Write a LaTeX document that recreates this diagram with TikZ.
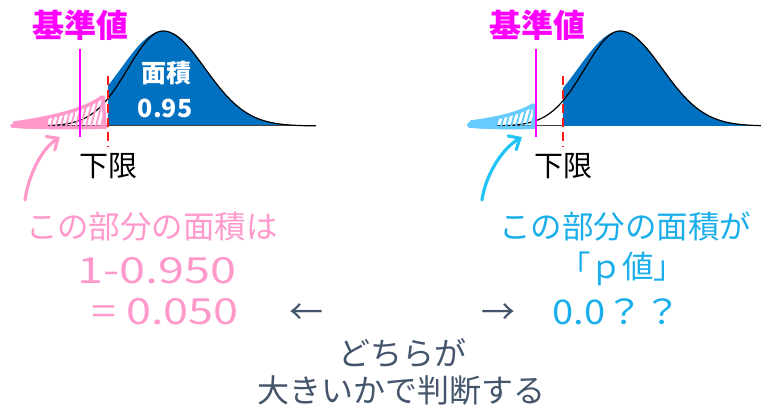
\documentclass[tikz,border=0pt]{standalone}
\usepackage{fontspec}
\setmainfont{Noto Sans CJK JP}
\usetikzlibrary{arrows.meta}
\definecolor{pinkc}{HTML}{FF99CC}
\definecolor{cyanc}{HTML}{1AAFEA}
\definecolor{cyanarrow}{HTML}{22C4F8}
\definecolor{blobblue}{HTML}{66CCFF}
\definecolor{magc}{HTML}{FF00FF}
\definecolor{fillblue}{HTML}{0070C0}
\definecolor{grayblue}{HTML}{44546A}
\definecolor{redc}{HTML}{FF1A1A}
\newcommand{\fsz}[1]{\fontsize{#1}{#1}\selectfont}
\tikzset{
  declare function={gl(\x)=126-95*exp(-0.5*(((\x-163)/35)^2)); gr(\x)=126-95*exp(-0.5*(((\x-163)/42)^2));},
  curveline/.style={black, line width=1.2},
  baseline/.style={black!75, line width=1},
  limitline/.style={redc, line width=2.6, dash pattern=on 9pt off 5pt},
  refline/.style={magc, line width=2},
  hatchline/.style={line width=1.8},
  blobstroke/.style={line width=3.5, line cap=round, line join=round},
  handarrow/.style={line width=3.2, line cap=round, -{Straight Barb[length=9pt,width=16pt,line cap=round]}},
  reflabel/.style={text=magc, font=\fsz{32}\bfseries, inner sep=0},
  limlabel/.style={text=black, font=\fsz{29}, inner sep=0},
  arealabel/.style={text=white, font=\fsz{25}\bfseries, inner sep=0},
  bigtext/.style={font=\fsz{31.5}, inner sep=0},
  numtext/.style={font=\fsz{36}, inner sep=0},
  graytext/.style={text=grayblue, font=\fsz{32}, inner sep=0},
}
\begin{document}
\begin{tikzpicture}[x=1pt,y=-1pt]
\useasboundingbox (0,0) rectangle (761,409);

% ---------------- left distribution ----------------
\fill[fillblue] (108,126) -- plot[domain=108:316,samples=60] (\x,{gr(\x)}) -- (316,126) -- cycle;
\draw[baseline] (12,126) -- (316,126);
\draw[curveline] plot[domain=12:163,samples=60] (\x,{gl(\x)}) -- plot[domain=163:316,samples=60] (\x,{gr(\x)});
% pink hatched tail
\begin{scope}
  \clip (40,127) -- (40,117) .. controls (70,112) and (90,106) .. (104,97) -- (104,127) -- cycle;
  \foreach \i in {30,35,...,110} \draw[pinkc,hatchline] (\i,130) -- (\i+9,95);
\end{scope}
\fill[pinkc] (10,126) .. controls (10,122) and (30,121) .. (48,117) -- (48,128) .. controls (30,129) and (12,129) .. (10,126) -- cycle;
\draw[pinkc,blobstroke] (12,126) .. controls (40,128) and (80,128) .. (106,127);
\draw[pinkc,blobstroke] (14,123) .. controls (50,118) and (85,110) .. (102,97);
\draw[pinkc,blobstroke] (103,97) -- (105,127);
\draw[limitline] (108,76) -- (108,147);
\draw[refline] (80,49) -- (80,137);
\node[reflabel] (refL) at (80,25) {基準値};
\node[arealabel] (areaL) at (166,73) {面積};
\node[arealabel] (valL) at (165,108) {0.95};
\node[limlabel] (limL) at (108,166) {下限};
\coordinate (pa0) at (25,200);
\coordinate (pa1) at (60,137);
\draw[pinkc,handarrow] (pa0) .. controls (28,178) and (40,150) .. (pa1);

% ---------------- right distribution ----------------
\begin{scope}[shift={(457,0)}]
\fill[fillblue] (106,126) -- plot[domain=106:304,samples=60] (\x,{gr(\x)}) -- (304,126) -- cycle;
\draw[baseline] (12,126) -- (106,126);
\draw[curveline] plot[domain=12:163,samples=60] (\x,{gl(\x)}) -- plot[domain=163:304,samples=60] (\x,{gr(\x)});
\begin{scope}
  \clip (38,127) -- (38,118) .. controls (55,114) and (68,110) .. (77,105) -- (77,127) -- cycle;
  \foreach \i in {28,33,...,85} \draw[blobblue,hatchline] (\i,130) -- (\i+9,98);
\end{scope}
\fill[blobblue] (10,125) .. controls (10,120) and (25,120) .. (40,117) -- (40,128) .. controls (25,129) and (12,129) .. (10,125) -- cycle;
\draw[blobblue,blobstroke] (12,126) .. controls (40,128) and (60,128) .. (78,127);
\draw[blobblue,blobstroke] (14,122) .. controls (45,118) and (65,112) .. (76,105);
\draw[blobblue,blobstroke] (77,105) -- (78,127);
\draw[limitline] (106,76) -- (106,147);
\draw[refline] (79,49) -- (79,137);
\end{scope}
\node[reflabel] (refR) at (537,25) {基準値};
\node[limlabel] (limR) at (563,166) {下限};
\coordinate (ba0) at (482,200);
\coordinate (ba1) at (522,137);
\draw[cyanarrow,handarrow] (ba0) .. controls (485,178) and (500,150) .. (ba1);

% ---------------- texts ----------------
\node[bigtext,text=pinkc] (tL1) at (152,227) {この部分の面積は};
\node[numtext,text=pinkc] (tL2) at (157,271) {\scalebox{1.3}[1]{1-0.950}};
\node[numtext,text=pinkc] (tL3) at (165,312) {\scalebox{1.25}[1]{= 0.050}};
\node[bigtext,text=cyanc] (tR1) at (625,227) {この部分の面積が};
\node[bigtext,text=cyanc] (tR2) at (622,269) {「ｐ値」};
\node[numtext,text=cyanc,font=\fsz{34}] (tR3) at (617,312) {\scalebox{1.12}[1]{0.0？？}};
\node[graytext,font=\fsz{34}] (arrL) at (306,314) {←};
\node[graytext,font=\fsz{34}] (arrR) at (498,314) {→};
\node[graytext] (q1) at (402,353) {どちらが};
\node[graytext] (q2) at (401,390) {大きいかで判断する};
\end{tikzpicture}
\end{document}
